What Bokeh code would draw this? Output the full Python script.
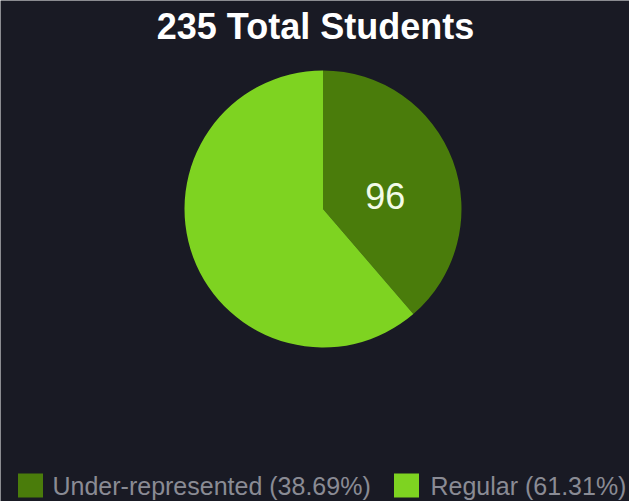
import re
import numpy as np
from bokeh.plotting import figure
from bokeh.models import Range1d, ColumnDataSource
from bokeh.core.properties import value
from bokeh.embed import file_html
from bokeh.resources import INLINE

# ---- data ----
categories = ["Under-represented", "Regular"]
percents = [38.69, 61.31]
counts = [96, 139]
total = 235
colors = ["#4a7c0b", "#7ed321"]
title_text = f"{total} Total Students"

BG = "#191a24"
W, H = 629, 501

p = figure(width=W, height=H, output_backend="svg", toolbar_location=None,
           x_range=Range1d(0, W), y_range=Range1d(-H, 0),
           min_border=0, background_fill_color=BG, border_fill_color=BG,
           outline_line_color=None)
p.axis.visible = False
p.grid.visible = False

# pie
cx, cy, R = 322.5, -208.5, 138.5
fr = np.array(percents) / 100.0
cum = np.concatenate([[0], np.cumsum(fr)])
ends = np.pi / 2 - 2 * np.pi * cum[:-1]
starts = np.pi / 2 - 2 * np.pi * cum[1:]
src = ColumnDataSource(dict(start=starts, end=ends, color=colors, cat=categories))
p.wedge(x=cx, y=cy, radius=R, start_angle="start", end_angle="end",
        fill_color="color", line_color=None, source=src)

# label inside the under-represented slice
mid = (starts[0] + ends[0]) / 2
lr = 0.48 * R
p.text(x=[cx + lr * np.cos(mid)], y=[cy + lr * np.sin(mid) - 10], text=[str(counts[0])],
       text_align="center", text_baseline="middle", text_color="#f2fbe8",
       text_font=value("Liberation Sans"), text_font_size="36px")

# title
p.text(x=[315], y=[-26], text=[title_text], text_align="center", text_baseline="middle",
       text_color="#ffffff", text_font=value("Liberation Sans"), text_font_style="bold",
       text_font_size="36px")

# legend
sq_x = [30, 406]
tx_x = [52, 430]
labels = [f"{c} ({v:.2f}%)" for c, v in zip(categories, percents)]
p.rect(x=sq_x, y=[-485, -485], width=25, height=24, fill_color=colors, line_color=None)
p.text(x=tx_x, y=[-485, -485], text=labels, text_align="left", text_baseline="middle",
       text_color="#8a8b94", text_font=value("Liberation Sans"), text_font_size="25px")

html = file_html(p, INLINE)
html = re.sub(r"<body([^>]*)>",
              lambda m: f'<body{m.group(1)} style="margin:0;padding:0;overflow:hidden;background-color:{BG};">',
              html, count=1)
open("out.html", "w").write(html)
